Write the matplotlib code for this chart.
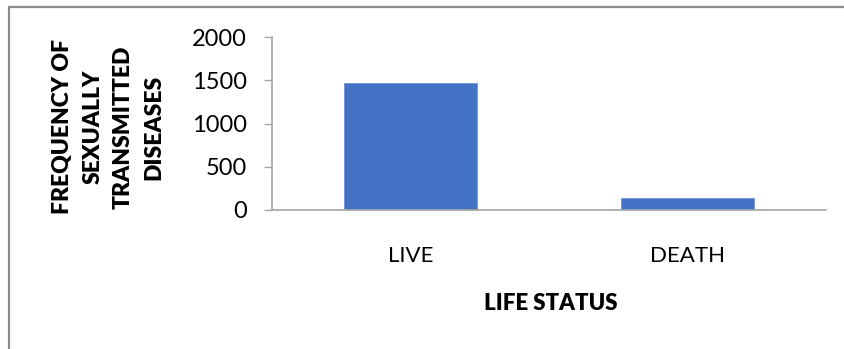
import matplotlib
matplotlib.use("Agg")
import matplotlib.pyplot as plt
from matplotlib.patches import Rectangle

categories = ["LIVE", "DEATH"]
frequencies = [1465, 135]
y_ticks = [0, 500, 1000, 1500, 2000]

plt.rcParams["font.family"] = ["Lato", "DejaVu Sans"]

fig = plt.figure(figsize=(8.45, 3.49), dpi=100)
fig.patch.set_facecolor("white")

# outer chart frame (only top and left edges fall inside the canvas)
fig.patches.append(Rectangle((9 / 845, -0.2), 1.2, 1 - 7 / 349 + 0.2,
                             transform=fig.transFigure, fill=False,
                             edgecolor="#8c8c8c", linewidth=1.6))

ax = fig.add_axes([272 / 845, 1 - 210 / 349, (826 - 272) / 845, (210 - 37.3) / 349])
x = list(range(len(categories)))
ax.bar(x, frequencies, width=0.478, color="#4472C4", edgecolor="#6f93d6", linewidth=0.6)

ax.set_xlim(-0.5, 1.5)
ax.set_ylim(0, 2000)
ax.set_yticks(y_ticks)
ax.set_yticklabels([str(v) for v in y_ticks], fontsize=17)
ax.set_xticks(x)
ax.set_xticklabels(categories, fontsize=16)
ax.tick_params(axis="x", length=0, pad=26)
ax.tick_params(axis="y", length=6, width=1, color="#a6a6a6", pad=12)

for side in ["top", "right"]:
    ax.spines[side].set_visible(False)
for side in ["left", "bottom"]:
    ax.spines[side].set_color("#a6a6a6")
    ax.spines[side].set_linewidth(1.2)

fig.text(108 / 845, 1 - 127 / 349, "FREQUENCY OF\nSEXUALLY\nTRANSMITTED\nDISEASES",
         rotation=90, ha="center", va="center", multialignment="center",
         fontsize=16.5, fontweight="heavy", linespacing=1.55)
fig.text(551 / 845, 1 - 304 / 349, "LIFE STATUS", ha="center", va="center",
         fontsize=16, fontweight="heavy")

fig.savefig("out.png", dpi=100)
